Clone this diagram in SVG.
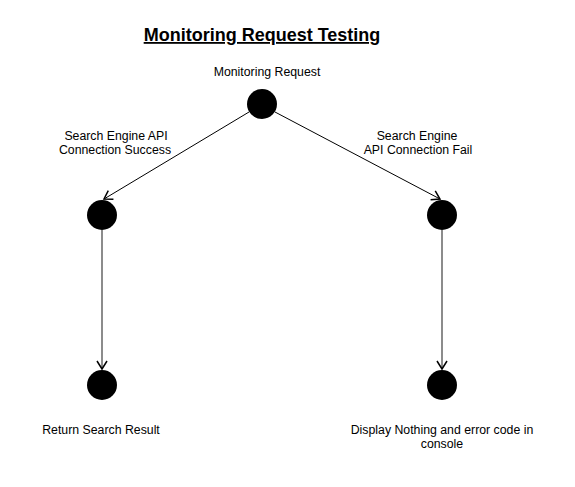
<svg xmlns="http://www.w3.org/2000/svg" width="575" height="487" viewBox="0 0 575 487">
<style>
text{font-family:"Liberation Sans",Arial,sans-serif;font-size:12.3px;fill:#000;text-anchor:middle}
.title{font-size:18px;font-weight:bold;text-decoration:underline}
.dot{fill:#000}
.d{stroke:#000;stroke-width:1;fill:none}
.v{stroke:#666;stroke-width:1.5;fill:none}
</style>
<defs>
<marker id="a" markerWidth="12" markerHeight="12" refX="10" refY="6" orient="auto" markerUnits="userSpaceOnUse">
<path d="M2,1 L10,6 L2,11" fill="none" stroke="#000" stroke-width="1.5"/>
</marker>
</defs>
<rect width="575" height="487" fill="#fff"/>
<text class="title" x="262" y="41">Monitoring Request Testing</text>
<g id="connectors">
<line class="d" x1="249" y1="112" x2="104" y2="199" marker-end="url(#a)"/>
<line class="d" x1="275" y1="112" x2="440" y2="199" marker-end="url(#a)"/>
<line class="v" x1="102" y1="230" x2="102" y2="369" marker-end="url(#a)"/>
<line class="v" x1="442" y1="230" x2="442" y2="369" marker-end="url(#a)"/>
</g>
<g id="start"><circle class="dot" cx="262" cy="104" r="15"/><text x="267" y="76">Monitoring Request</text></g>
<g id="success"><circle class="dot" cx="102" cy="215" r="15"/><text x="116" y="140">Search Engine API</text><text x="115" y="154">Connection Success</text></g>
<g id="fail"><circle class="dot" cx="442" cy="215" r="15"/><text x="417" y="140">Search Engine</text><text x="418" y="154">API Connection Fail</text></g>
<g id="result"><circle class="dot" cx="102" cy="385" r="15"/><text x="101" y="434">Return Search Result</text></g>
<g id="nothing"><circle class="dot" cx="442" cy="385" r="15"/><text x="442" y="434">Display Nothing and error code in</text><text x="442" y="448">console</text></g>
</svg>
